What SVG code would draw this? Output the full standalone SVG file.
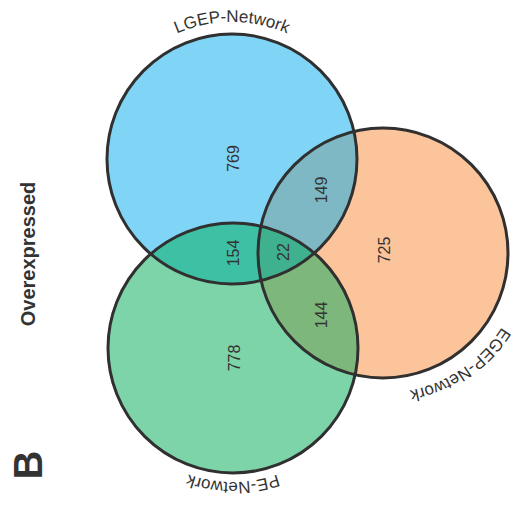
<svg xmlns="http://www.w3.org/2000/svg" xmlns:xlink="http://www.w3.org/1999/xlink" width="514" height="508" viewBox="0 0 514 508">
<style>
.ring{fill:none;stroke:#303030;stroke-width:3}
.num{font-family:"Liberation Sans",Arial,sans-serif;font-size:16px;fill:#333;text-anchor:middle}
.set{font-family:"Liberation Sans",Arial,sans-serif;font-size:17px;fill:#333;text-anchor:middle}
.side{font-family:"Liberation Sans",Arial,sans-serif;font-weight:bold;fill:#333;text-anchor:middle}
</style>
<defs>
<clipPath id="cB"><circle cx="232" cy="159" r="125"/></clipPath>
<clipPath id="cO"><circle cx="383" cy="253" r="125"/></clipPath>
<clipPath id="cG"><circle cx="233" cy="348" r="125"/></clipPath>
<path id="pB" d="M95,159 A137,137 0 0 1 369,159"/>
<path id="pO" d="M523,253 A140,140 0 0 1 332.8,383.7"/>
<path id="pG" d="M367,348 A134,134 0 0 1 99,348"/>
</defs>
<g id="fills">
<circle cx="232" cy="159" r="125" fill="#80D5F7"/>
<circle cx="383" cy="253" r="125" fill="#FCC49A"/>
<circle cx="233" cy="348" r="125" fill="#7DD4A9"/>
<circle cx="383" cy="253" r="125" fill="#7EB8C5" clip-path="url(#cB)"/>
<circle cx="233" cy="348" r="125" fill="#3EC0A5" clip-path="url(#cB)"/>
<circle cx="233" cy="348" r="125" fill="#7EB77C" clip-path="url(#cO)"/>
<g clip-path="url(#cB)"><circle cx="233" cy="348" r="125" fill="#40B18F" clip-path="url(#cO)"/></g>
</g>
<g id="LGEP-Network"><circle class="ring" cx="232" cy="159" r="125"/><text class="set"><textPath xlink:href="#pB" href="#pB" startOffset="50%">LGEP-Network</textPath></text></g>
<g id="EGEP-Network"><circle class="ring" cx="383" cy="253" r="125"/><text class="set"><textPath xlink:href="#pO" href="#pO" startOffset="50%">EGEP-Network</textPath></text></g>
<g id="PE-Network"><circle class="ring" cx="233" cy="348" r="125"/><text class="set"><textPath xlink:href="#pG" href="#pG" startOffset="50%">PE-Network</textPath></text></g>
<g id="counts">
<text class="num" transform="translate(233.5,158.5) rotate(-90)" y="5.7">769</text>
<text class="num" transform="translate(321.5,190) rotate(-90)" y="5.7">149</text>
<text class="num" transform="translate(384,250) rotate(-90)" y="5.7">725</text>
<text class="num" transform="translate(233.5,253) rotate(-90)" y="5.7">154</text>
<text class="num" transform="translate(283,252) rotate(-90)" y="5.7">22</text>
<text class="num" transform="translate(321.5,315) rotate(-90)" y="5.7">144</text>
<text class="num" transform="translate(234,358) rotate(-90)" y="5.7">778</text>
</g>
<g id="labels">
<text class="side" font-size="20" transform="translate(35,254) rotate(-90)">Overexpressed</text>
<text class="side" font-size="40" transform="translate(42,465) rotate(-90)">B</text>
</g>
</svg>
